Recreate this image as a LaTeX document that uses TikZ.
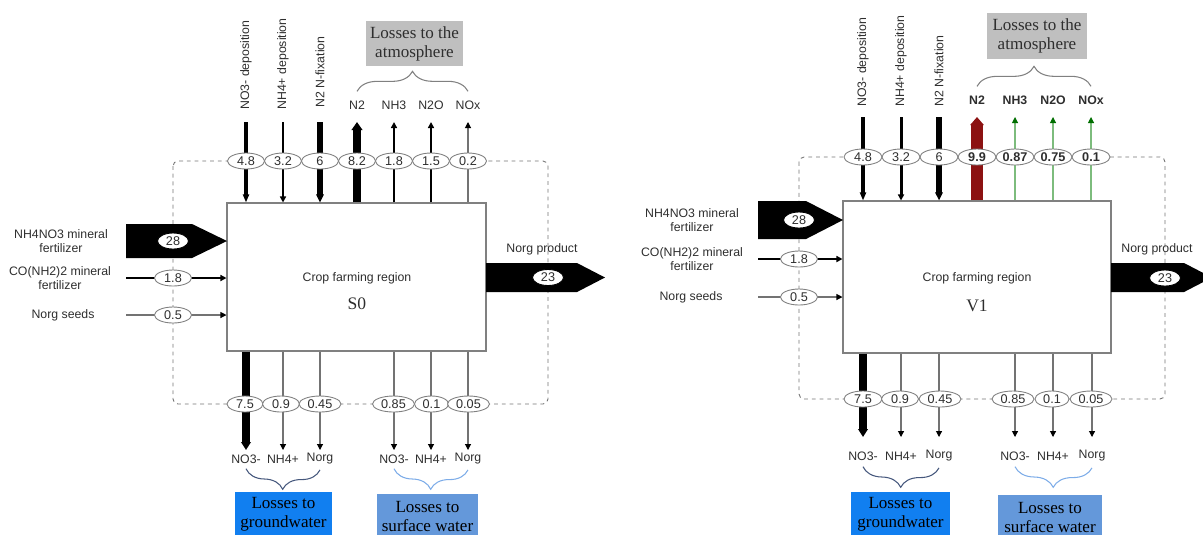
\documentclass[tikz,border=0pt]{standalone}
\usepackage{fontspec}
\setmainfont{Liberation Sans}
\newfontfamily\seriffam{Liberation Serif}
\usetikzlibrary{positioning, arrows.meta, shapes.geometric, decorations.pathreplacing}
\definecolor{ctext}{gray}{0.18}
\definecolor{cbox}{gray}{0.5}
\definecolor{cdash}{gray}{0.45}
\definecolor{cthin}{gray}{0.45}
\definecolor{catm}{gray}{0.75}
\definecolor{cground}{RGB}{17,127,240}
\definecolor{csurf}{RGB}{100,152,218}
\definecolor{cbrgw}{RGB}{70,88,125}
\definecolor{cbrsw}{RGB}{125,172,232}
\definecolor{cred}{RGB}{140,18,18}
\definecolor{cgreen}{RGB}{125,188,125}
\definecolor{cgreenhd}{RGB}{0,110,0}

\begin{document}
\begin{tikzpicture}[x=0.2mm, y=-0.2mm,
  lbl/.style={font=\fontsize{7}{8.2}\selectfont, text=ctext, inner sep=0pt, align=center},
  oval/.style={ellipse, draw=cbox, fill=white, inner sep=0pt, line width=0.5pt,
               minimum width=7.4mm, minimum height=3.2mm,
               font=\fontsize{7.2}{8}\selectfont, text=ctext},
  wideoval/.style={oval, minimum width=8.4mm},
  boldoval/.style={oval, minimum width=7.6mm, font=\fontsize{7.2}{8}\selectfont\bfseries},
  region/.style={draw=cbox, fill=white, line width=0.6pt, inner sep=0pt},
  bigtip/.style={-{Triangle[length=1.6mm, width=0pt 1.2]}},
  smalltip/.style={-{Triangle[length=1.2mm, width=1.2mm, color=black]}},
  greentip/.style={-{Triangle[length=1.2mm, width=1.2mm, color=cgreenhd]}, draw=cgreen, line width=0.6pt},
  lossbox/.style={font=\seriffam\fontsize{9.7}{10.8}\selectfont, align=center, inner sep=0pt},
  boundary/.style={draw=cdash, line width=0.5pt, dash pattern=on 2.2pt off 2.2pt, rounded corners=1mm},
  curly/.style={decorate, decoration={brace, amplitude=4mm}, line width=0.6pt}]

  \useasboundingbox (0,0) rectangle (1203,534);

  % ---------------- left panel : S0 ----------------
  \draw[boundary] (173,161) rectangle (548,404);

  \node[region, minimum width=51.8mm, minimum height=29.6mm] (Lbox) at (356.5,277) {};
  \node[lbl] (Lname) at (357,278) {Crop farming region};
  \node[lbl, font=\seriffam\fontsize{10}{12}\selectfont] (Lscen) at (357,304) {S0};

  % deposition and fixation
  \node[lbl, rotate=90, anchor=west] (LdepA) at (246,110) {NO3- deposition};
  \node[lbl, rotate=90, anchor=west] (LdepB) at (283,110) {NH4+ deposition};
  \node[lbl, rotate=90, anchor=west] (LfixN) at (320,108) {N2 N-fixation};
  \coordinate (LinA) at (246,122);
  \coordinate (LinB) at (283,122);
  \coordinate (LinC) at (320,122);
  \draw[bigtip, line width=2.8pt] (LinA) -- (LinA |- Lbox.north);
  \draw[smalltip, line width=1.7pt] (LinB) -- (LinB |- Lbox.north);
  \draw[bigtip, line width=3.4pt] (LinC) -- (LinC |- Lbox.north);

  % losses to the atmosphere
  \coordinate (LupA) at (357,122);
  \coordinate (LupB) at (394,122);
  \coordinate (LupC) at (431,122);
  \coordinate (LupD) at (468,122);
  \draw[bigtip, line width=5pt] (Lbox.north -| LupA) -- (LupA);
  \draw[smalltip, line width=1.1pt] (Lbox.north -| LupB) -- (LupB);
  \draw[smalltip, line width=1.1pt] (Lbox.north -| LupC) -- (LupC);
  \draw[smalltip, draw=cthin, line width=0.6pt] (Lbox.north -| LupD) -- (LupD);
  \node[lbl] (LlN2) at (357,105) {N2};
  \node[lbl] (LlNH3) at (394,105) {NH3};
  \node[lbl] (LlN2O) at (431,105) {N2O};
  \node[lbl] (LlNOx) at (468,105) {NOx};
  \draw[curly, draw=cbox] ([yshift=1.8mm]LlN2.north) -- ([yshift=1.8mm]LlNOx.north);
  \node[lossbox, fill=catm, text=ctext, minimum width=19.4mm, minimum height=9mm] (Latm)
       at (414.5,43.5) {Losses to the\\atmosphere};

  \node[oval] (LvA) at (246,161) {4.8};
  \node[oval] (LvB) at (283,161) {3.2};
  \node[oval] (LvC) at (320,161) {6};
  \node[oval] (LvD) at (357,161) {8.2};
  \node[oval] (LvE) at (394,161) {1.8};
  \node[oval] (LvF) at (431,161) {1.5};
  \node[oval] (LvG) at (468,161) {0.2};

  % fertilizer and seed inputs
  \node[lbl] (LfertA) at (61,241) {NH4NO3 mineral\\fertilizer};
  \coordinate (LtipA) at (227,241);
  \fill (LtipA) -- ++(-35,-17) -- ++(-66,0) -- ++(0,34) -- ++(66,0) -- cycle;
  \node[oval, draw=black, minimum width=6.2mm] (LvIn) at (173,241) {28};

  \node[lbl] (LfertB) at (60,278) {CO(NH2)2 mineral\\fertilizer};
  \coordinate (LinD) at (126,278);
  \draw[smalltip, line width=1.1pt] (LinD) -- (LinD -| Lbox.west);
  \node[oval] (LvUr) at (173,278) {1.8};

  \node[lbl] (Lseed) at (63,315) {Norg seeds};
  \coordinate (LinE) at (126,315);
  \draw[smalltip, draw=cthin, line width=0.6pt] (LinE) -- (LinE -| Lbox.west);
  \node[oval] (LvSd) at (173,315) {0.5};

  % product
  \coordinate (Lprod) at (486,263);
  \fill (Lprod) -- ++(91,0) -- ++(28,14.5) -- ++(-28,14.5) -- ++(-91,0) -- cycle;
  \node[oval, draw=black, minimum width=6.2mm] (LvOut) at (548,277.5) {23};
  \node[lbl] (Lprodlbl) at (542,249) {Norg product};

  % losses to water
  \coordinate (LdnA) at (246,450);
  \coordinate (LdnB) at (283,450);
  \coordinate (LdnC) at (320,450);
  \coordinate (LdnD) at (394,450);
  \coordinate (LdnE) at (431,450);
  \coordinate (LdnF) at (468,450);
  \draw[bigtip, line width=4.5pt] (Lbox.south -| LdnA) -- (LdnA);
  \draw[smalltip, draw=cthin, line width=0.6pt] (Lbox.south -| LdnB) -- (LdnB);
  \draw[smalltip, draw=cthin, line width=0.6pt] (Lbox.south -| LdnC) -- (LdnC);
  \draw[smalltip, draw=cthin, line width=0.6pt] (Lbox.south -| LdnD) -- (LdnD);
  \draw[smalltip, draw=cthin, line width=0.6pt] (Lbox.south -| LdnE) -- (LdnE);
  \draw[smalltip, draw=cthin, line width=0.6pt] (Lbox.south -| LdnF) -- (LdnF);

  \node[oval, minimum width=7.2mm] (LwA) at (245,404) {7.5};
  \node[oval] (LwB) at (281,404) {0.9};
  \node[wideoval] (LwC) at (320,404) {0.45};
  \node[wideoval] (LwD) at (393.5,404) {0.85};
  \node[oval, minimum width=6.8mm] (LwE) at (431.5,404) {0.1};
  \node[wideoval] (LwF) at (468.5,404) {0.05};

  \node[lbl] (LgA) at (246,459) {NO3-};
  \node[lbl] (LgB) at (283,459) {NH4+};
  \node[lbl] (LgC) at (320,459) {Norg};
  \node[lbl] (LsA) at (394,459) {NO3-};
  \node[lbl] (LsB) at (431,459) {NH4+};
  \node[lbl] (LsC) at (468,459) {Norg};
  \draw[curly, draw=cbrgw] ([yshift=-1mm]LgC.south) -- ([yshift=-1mm]LgA.south);
  \draw[curly, draw=cbrsw] ([yshift=-1mm]LsC.south) -- ([yshift=-1mm]LsA.south);
  \node[lossbox, fill=cground, minimum width=19.4mm, minimum height=8.8mm] (Lgw)
       at (283.5,514) {Losses to\\groundwater};
  \node[lossbox, fill=csurf, minimum width=20.2mm, minimum height=8.8mm] (Lsw)
       at (427.5,516) {Losses to\\surface water};

  % ---------------- right panel : V1 ----------------
  \draw[boundary] (799,157) rectangle (1165,399);

  \node[region, minimum width=53.6mm, minimum height=30.4mm] (Rbox) at (977,277) {};
  \node[lbl] (Rname) at (977,278) {Crop farming region};
  \node[lbl, font=\seriffam\fontsize{10}{12}\selectfont] (Rscen) at (977,306) {V1};

  % deposition and fixation
  \node[lbl, rotate=90, anchor=west] (RdepA) at (863,107) {NO3- deposition};
  \node[lbl, rotate=90, anchor=west] (RdepB) at (901,107) {NH4+ deposition};
  \node[lbl, rotate=90, anchor=west] (RfixN) at (939,107) {N2 N-fixation};
  \coordinate (RinA) at (863,117);
  \coordinate (RinB) at (901,117);
  \coordinate (RinC) at (939,117);
  \draw[bigtip, line width=2.8pt] (RinA) -- (RinA |- Rbox.north);
  \draw[smalltip, line width=1.7pt] (RinB) -- (RinB |- Rbox.north);
  \draw[bigtip, line width=3.4pt] (RinC) -- (RinC |- Rbox.north);

  % losses to the atmosphere
  \coordinate (RupA) at (977,117);
  \coordinate (RupB) at (1015,117);
  \coordinate (RupC) at (1053,117);
  \coordinate (RupD) at (1091,117);
  \draw[bigtip, draw=cred, line width=6.3pt] (Rbox.north -| RupA) -- (RupA);
  \draw[greentip] (Rbox.north -| RupB) -- (RupB);
  \draw[greentip] (Rbox.north -| RupC) -- (RupC);
  \draw[greentip] (Rbox.north -| RupD) -- (RupD);
  \node[lbl, font=\fontsize{7}{8.2}\selectfont\bfseries] (RlN2) at (977,100) {N2};
  \node[lbl, font=\fontsize{7}{8.2}\selectfont\bfseries] (RlNH3) at (1015,100) {NH3};
  \node[lbl, font=\fontsize{7}{8.2}\selectfont\bfseries] (RlN2O) at (1053,100) {N2O};
  \node[lbl, font=\fontsize{7}{8.2}\selectfont\bfseries] (RlNOx) at (1091,100) {NOx};
  \draw[curly, draw=cbox] ([yshift=1.8mm]RlN2.north) -- ([yshift=1.8mm]RlNOx.north);
  \node[lossbox, fill=catm, text=ctext, minimum width=20mm, minimum height=9.2mm] (Ratm)
       at (1037,36) {Losses to the\\atmosphere};

  \node[oval, minimum width=7.6mm] (RvA) at (863,157) {4.8};
  \node[oval, minimum width=7.6mm] (RvB) at (901,157) {3.2};
  \node[oval, minimum width=7.6mm] (RvC) at (939,157) {6};
  \node[boldoval] (RvD) at (977,157) {9.9};
  \node[boldoval] (RvE) at (1015,157) {0.87};
  \node[boldoval] (RvF) at (1053,157) {0.75};
  \node[boldoval] (RvG) at (1091,157) {0.1};

  % fertilizer and seed inputs
  \node[lbl] (RfertA) at (692,220) {NH4NO3 mineral\\fertilizer};
  \coordinate (RtipA) at (843,220);
  \fill (RtipA) -- ++(-37,-19) -- ++(-48,0) -- ++(0,38) -- ++(48,0) -- cycle;
  \node[oval, draw=black, minimum width=6.2mm] (RvIn) at (799,220) {28};

  \node[lbl] (RfertB) at (692,259) {CO(NH2)2 mineral\\fertilizer};
  \coordinate (RinD) at (758,259);
  \draw[smalltip, line width=1.1pt] (RinD) -- (RinD -| Rbox.west);
  \node[oval] (RvUr) at (799,259) {1.8};

  \node[lbl] (Rseed) at (691,297) {Norg seeds};
  \coordinate (RinE) at (758,297);
  \draw[smalltip, draw=cthin, line width=0.6pt] (RinE) -- (RinE -| Rbox.west);
  \node[oval] (RvSd) at (799,297) {0.5};

  % product
  \coordinate (Rprod) at (1111,263);
  \fill (Rprod) -- ++(73,0) -- ++(28,14.5) -- ++(-28,14.5) -- ++(-73,0) -- cycle;
  \node[oval, draw=black, minimum width=6.2mm] (RvOut) at (1165,278) {23};
  \node[lbl] (Rprodlbl) at (1157,249) {Norg product};

  % losses to water
  \coordinate (RdnA) at (863,437);
  \coordinate (RdnB) at (901,437);
  \coordinate (RdnC) at (939,437);
  \coordinate (RdnD) at (1015,437);
  \coordinate (RdnE) at (1053,437);
  \coordinate (RdnF) at (1092,437);
  \draw[bigtip, line width=4.5pt] (Rbox.south -| RdnA) -- (RdnA);
  \draw[smalltip, draw=cthin, line width=0.6pt] (Rbox.south -| RdnB) -- (RdnB);
  \draw[smalltip, draw=cthin, line width=0.6pt] (Rbox.south -| RdnC) -- (RdnC);
  \draw[smalltip, draw=cthin, line width=0.6pt] (Rbox.south -| RdnD) -- (RdnD);
  \draw[smalltip, draw=cthin, line width=0.6pt] (Rbox.south -| RdnE) -- (RdnE);
  \draw[smalltip, draw=cthin, line width=0.6pt] (Rbox.south -| RdnF) -- (RdnF);

  \node[oval, minimum width=7.6mm] (RwA) at (863,399) {7.5};
  \node[oval] (RwB) at (900,399) {0.9};
  \node[wideoval] (RwC) at (940,399) {0.45};
  \node[wideoval] (RwD) at (1013,399) {0.85};
  \node[oval, minimum width=6.8mm] (RwE) at (1052,399) {0.1};
  \node[wideoval] (RwF) at (1091,399) {0.05};

  \node[lbl] (RgA) at (863,456) {NO3-};
  \node[lbl] (RgB) at (901,456) {NH4+};
  \node[lbl] (RgC) at (939,456) {Norg};
  \node[lbl] (RsA) at (1015,456) {NO3-};
  \node[lbl] (RsB) at (1053,456) {NH4+};
  \node[lbl] (RsC) at (1092,456) {Norg};
  \draw[curly, draw=cbrgw] ([yshift=-1.2mm]RgC.south) -- ([yshift=-1.2mm]RgA.south);
  \draw[curly, draw=cbrsw] ([yshift=-1.2mm]RsC.south) -- ([yshift=-1.2mm]RsA.south);
  \node[lossbox, fill=cground, minimum width=19.8mm, minimum height=8.8mm] (Rgw)
       at (900.5,514) {Losses to\\groundwater};
  \node[lossbox, fill=csurf, minimum width=20.8mm, minimum height=8.8mm] (Rsw)
       at (1050,517) {Losses to\\surface water};
\end{tikzpicture}
\end{document}
